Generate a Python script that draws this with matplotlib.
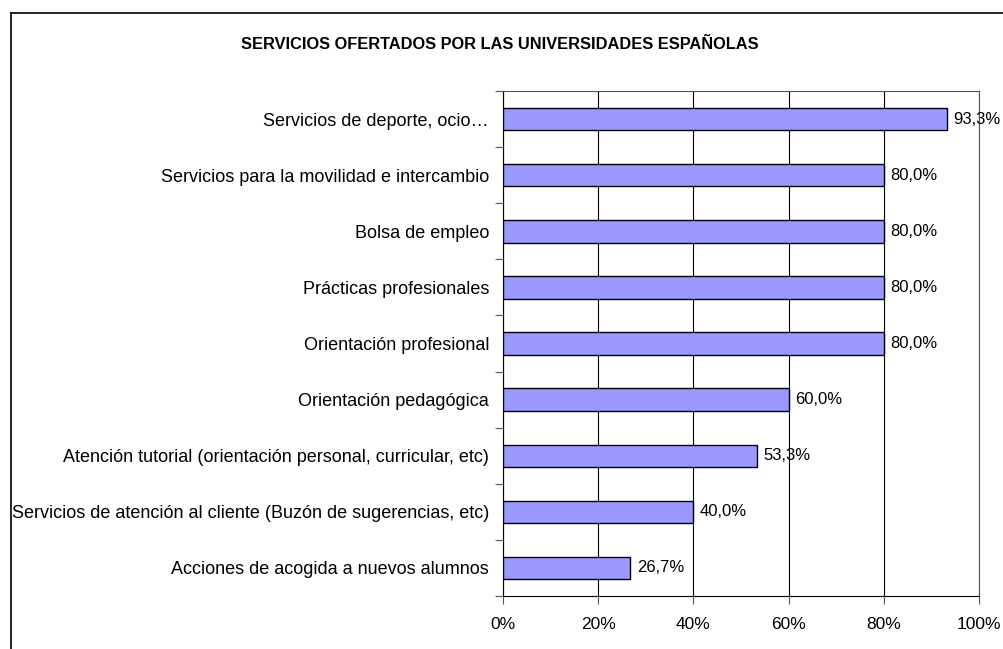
import matplotlib
matplotlib.use("Agg")
import matplotlib.pyplot as plt
from matplotlib.ticker import FixedLocator, PercentFormatter
from matplotlib.lines import Line2D

plt.rcParams["font.family"] = ["Liberation Sans", "DejaVu Sans"]

# ------------------------------------------------
# Data (share of universities offering each service)
# ------------------------------------------------
servicios = [
    "Acciones de acogida a nuevos alumnos",
    "Servicios de atención al cliente (Buzón de sugerencias, etc)",
    "Atención tutorial (orientación personal, curricular, etc)",
    "Orientación pedagógica",
    "Orientación profesional",
    "Prácticas profesionales",
    "Bolsa de empleo",
    "Servicios para la movilidad e intercambio",
    "Servicios de deporte, ocio…",
]
porcentajes = [26.7, 40.0, 53.3, 60.0, 80.0, 80.0, 80.0, 80.0, 93.3]
x_ticks = [0, 20, 40, 60, 80, 100]

titulo = "SERVICIOS OFERTADOS POR LAS UNIVERSIDADES ESPAÑOLAS"

# ------------------------------------------------
# Figure
# ------------------------------------------------
fig = plt.figure(figsize=(10.04, 6.49), dpi=100)
ax = fig.add_axes([0.501, 0.0817, 0.474, 0.778])

y = range(len(servicios))
ax.barh(y, porcentajes, height=0.4, color="#9999FF",
        edgecolor="black", linewidth=1.0, zorder=3)

for yi, val in zip(y, porcentajes):
    ax.text(val + 1.4, yi, f"{val:.1f}%".replace(".", ","),
            va="center", ha="left", fontsize=12, zorder=4)

ax.set_xlim(0, 100)
ax.set_ylim(-0.5, len(servicios) - 0.5)

ax.xaxis.set_major_locator(FixedLocator(x_ticks))
ax.xaxis.set_major_formatter(PercentFormatter(decimals=0))
ax.grid(axis="x", color="black", linewidth=0.8, zorder=0)

ax.set_yticks(list(y))
ax.set_yticklabels(servicios, fontsize=13)
ax.tick_params(axis="y", length=0, pad=10)
# category separators on the value axis
ax.set_yticks([i + 0.5 for i in range(-1, len(servicios))], minor=True)
ax.tick_params(axis="y", which="minor", length=6, width=0.8, color="#555555")
ax.tick_params(axis="x", length=6, width=0.8, pad=9, labelsize=12.5,
               color="#555555")

for side in ["top", "right", "left", "bottom"]:
    ax.spines[side].set_linewidth(0.8)
    ax.spines[side].set_color("black")
ax.spines["top"].set_color("#555555")
ax.spines["right"].set_color("#555555")

fig.text(0.498, 0.931, titulo, ha="center", va="center",
         fontsize=11.8, fontweight="bold")

# chart frame (left and top edges)
fig.add_artist(Line2D([0.0105, 0.0105], [0.0, 0.980], color="black",
                      linewidth=1.2, transform=fig.transFigure))
fig.add_artist(Line2D([0.0105, 1.0], [0.980, 0.980], color="black",
                      linewidth=1.2, transform=fig.transFigure))

fig.savefig("out.png", dpi=100, facecolor="white")
